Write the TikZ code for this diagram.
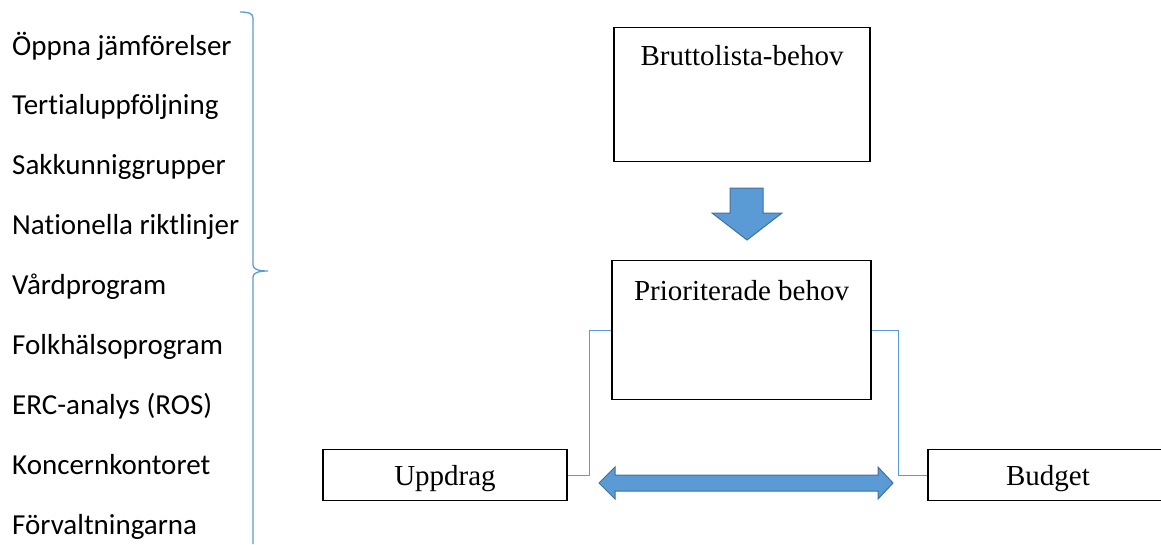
\documentclass[tikz,border=0pt]{standalone}
\usepackage{fontspec}
\setmainfont{Liberation Serif}
\newfontfamily\calibri[Ligatures=NoCommon]{Carlito}
\usepackage{tikz}
\definecolor{wordblue}{HTML}{5B9BD5}
\definecolor{wordedge}{HTML}{41719C}
\tikzstyle{box} = [rectangle, draw=black, line width=1.3pt, inner sep=0pt, anchor=north, font=\fontsize{29}{35}\selectfont]
\tikzstyle{source} = [anchor=base west, inner sep=0pt, font=\calibri\fontsize{29}{35}\selectfont]
\tikzstyle{link} = [draw=wordblue, line width=1.3pt]
\tikzstyle{blockarrow} = [fill=wordblue, draw=wordedge, line width=1pt, line join=miter]

\begin{document}
\begin{tikzpicture}[x=1pt, y=-1pt]
  \useasboundingbox (0,0) rectangle (1161,544);
  \clip (0,0) rectangle (1161,544);

  \foreach \txt [count=\i] in {Öppna jämförelser, Tertialuppföljning, Sakkunniggrupper, Nationella riktlinjer, Vårdprogram, Folkhälsoprogram, ERC-analys (ROS), Koncernkontoret, Förvaltningarna}
    \node (src\i) [source] at (12, {55+59.9*(\i-1)}) {\txt};

  % brace
  \draw [link] (240,12) .. controls (248,12) and (253,13) .. (253,18) -- (253,265)
    .. controls (253,269) and (258,271) .. (268,271) .. controls (258,271) and (253,273) .. (253,277) -- (253,544);

  \node (brutto) [box, minimum width=256pt, text height=38pt, text depth=96pt] at (742,27) {Bruttolista-behov};
  \node (prio) [box, minimum width=259pt, text height=40pt, text depth=99pt] at (741.5,260) {Prioriterade behov};
  \node (upp) [box, minimum width=244pt, text height=36pt, text depth=15pt] at (445,449) {Uppdrag};
  \node (bud) [box, minimum width=240pt, text height=36pt, text depth=15pt] at (1048,449) {Budget};

  \draw [blockarrow] (730,188) -- (763,188) -- (763,213) -- (782,213) -- (747,240) -- (712,213) -- (730,213) -- cycle;
  \draw [blockarrow] (599,483) -- (615,467) -- (615,475) -- (878,475) -- (878,467) -- (893,483)
    -- (878,499) -- (878,491) -- (615,491) -- (615,499) -- cycle;

  \draw [link] (upp.east) -- ++(22,0) |- (prio.west);
  \draw [link] (bud.west) -- ++(-29,0) |- (prio.east);

\end{tikzpicture}
\end{document}
